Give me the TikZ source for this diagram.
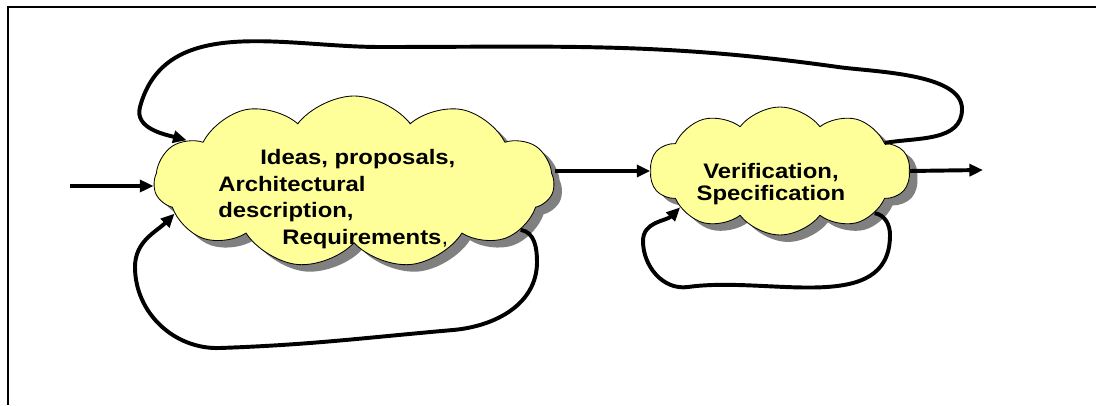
\documentclass[tikz,border=0pt]{standalone}
\usepackage{fontspec}
\usetikzlibrary{shapes.symbols,shadows,arrows.meta}
\newfontfamily\cloudfont{Liberation Sans}[FakeStretch=1.14]
\definecolor{cloudyellow}{RGB}{255,255,153}
\definecolor{shadowgray}{RGB}{128,128,128}
\tikzset{idea/.style={cloud,cloud puffs=11,cloud puff arc=105,cloud ignores aspect,draw,line width=0.6pt,fill=cloudyellow,
	drop shadow={shadow xshift=0.2cm,shadow yshift=-0.175cm,fill=shadowgray,opacity=1}}}
\tikzset{flow/.style={line width=2.8pt,-{Triangle[length=3.4mm,width=3mm]}}}
\tikzset{ideatext/.style={inner sep=0pt,font=\cloudfont\bfseries\fontsize{14.9pt}{19pt}\selectfont}}

\begin{document}
\begin{tikzpicture}
	\useasboundingbox (0,0) rectangle (27.4,10.125);
	\draw[line width=1.4pt] (0.2,0) -- (0.2,9.95) -- (27.4,9.95);

	% the two clouds
	\node[idea,minimum width=10cm,minimum height=4.3cm] (c1) at (8.85,5.575) {};
	\node[idea,cloud puffs=10,minimum width=6.5cm,minimum height=3.2cm] (c2) at (19.5,5.85) {};

	\node[ideatext,align=left,anchor=north west] (t1) at (5.45,6.4)
		{\hspace*{1.05cm}Ideas, proposals,\\Architectural\\description,\\\hspace*{1.6cm}Requirements{\mdseries ,}};
	\node[ideatext,align=center,anchor=north,font=\cloudfont\bfseries\fontsize{14.9pt}{15.5pt}\selectfont] (t2) at (19.275,6.05)
		{Verification,\\Specification};

	% straight flow
	\coordinate (in) at (1.75,5.475);
	\coordinate (out) at (24.575,5.875);
	\draw[flow] (in) -- (in -| c1.west);
	\draw[flow] (c1.east |- c2.west) -- (c2.west);
	\draw[flow] (c2.east) -- (out);

	% loops
	\draw[flow] (c2.15) to[out=10,in=-90] (24.05,7.4) to[out=90,in=-8,looseness=0.7] (20.95,8.45)
		to[out=172,in=0] (9.5,8.95) to[out=180,in=75] (3.5,7.45) to[out=-105,in=165] (c1.166);
	\draw[flow] (c1.344) to[out=-10,in=90] (13.425,3.575) to[out=-90,in=5] (11.325,1.875)
		to[out=185,in=2] (5.5,1.425) to[out=182,in=-90] (3.375,3.45) to[out=90,in=225] (c1.190);
	\draw[flow] (c2.336) to[out=-10,in=90] (22.25,4.25) to[out=-90,in=8] (17.2,2.95)
		to[out=188,in=-90] (16.075,4.1) to[out=90,in=225] (c2.200);

\end{tikzpicture}
\end{document}
